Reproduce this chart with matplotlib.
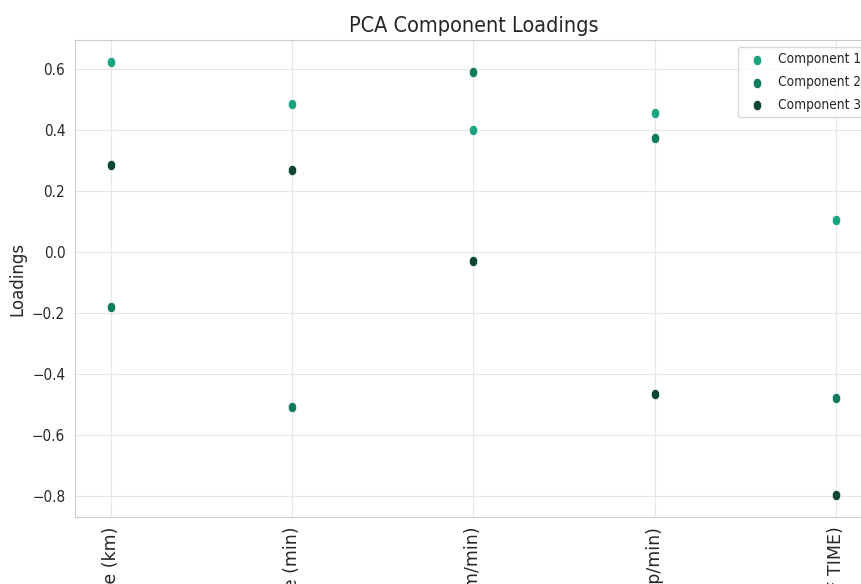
import numpy as np
import matplotlib
matplotlib.use("Agg")
import matplotlib.pyplot as plt
from matplotlib.path import Path
import seaborn as sns

# =====================
# Data
# =====================
features = ["Distance (km)", "Moving Time (min)", "Avg Speed (m/min)",
            "Cadence (step/min)", "Moving Ratio (% OF TIME)"]
comp1 = [0.623, 0.485, 0.400, 0.456, 0.105]
comp2 = [-0.180, -0.508, 0.590, 0.374, -0.479]
comp3 = [0.285, 0.269, -0.030, -0.466, -0.797]
comp_names = ["Component 1", "Component 2", "Component 3"]
colors = ["#19a580", "#0f7a5c", "#0a4633"]

# =====================
# Style
# =====================
sns.set_style("whitegrid")
plt.rcParams["font.family"] = ["DejaVu Sans"]
plt.rcParams["font.stretch"] = "condensed"
plt.rcParams["axes.edgecolor"] = "#cccccc"
plt.rcParams["grid.color"] = "#e6e6e6"

# slightly tall dot, like the reference
t = np.linspace(0, 2 * np.pi, 40)
dot = Path(np.column_stack([0.82 * np.cos(t), np.sin(t)]), closed=True)

fig = plt.figure(figsize=(8.61, 5.84), dpi=100)
ax = fig.add_axes([75 / 861, 1 - 517 / 584, (872 - 75) / 861, (517 - 40) / 584])

x = np.arange(len(features))
for vals, name, c in zip([comp1, comp2, comp3], comp_names, colors):
    ax.scatter(x, vals, s=55, color=c, marker=dot, edgecolor="white",
               linewidth=0.5, label=name, zorder=3)

ax.set_xticks(x)
ax.set_xticklabels(features, rotation=90, fontsize=12.5, fontstretch="normal")
ax.tick_params(axis="y", labelsize=11)
ax.set_ylabel("Loadings", fontsize=12, fontstretch="normal")
ax.set_title("PCA Component Loadings", fontsize=15.5)
ax.legend(loc="upper right", bbox_to_anchor=(1.002, 1.0), fontsize=9.8,
          frameon=True, handletextpad=0.6, labelspacing=0.65)

fig.savefig("out.png", dpi=100)
